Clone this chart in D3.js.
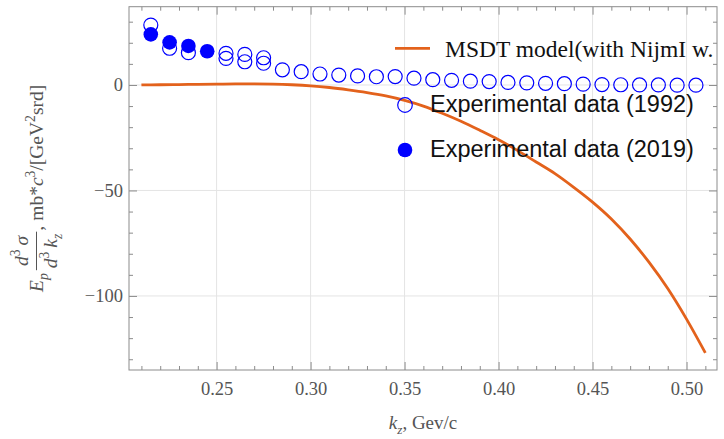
<!DOCTYPE html>
<html>
<head>
<meta charset="utf-8">
<script src="https://cdn.jsdelivr.net/npm/d3@7"></script>
<style>
body { margin: 0; background: #fff; }
svg { display: block; }
</style>
</head>
<body>
<svg id="chart" width="724" height="439"></svg>
<script>
// model curve (MSDT, NijmI)
var curveKz = [0.21, 0.22, 0.23, 0.24, 0.25, 0.26, 0.27, 0.28, 0.29, 0.30, 0.31, 0.32, 0.33, 0.34, 0.35, 0.36,
	0.37, 0.38, 0.39, 0.40, 0.41, 0.42, 0.43, 0.44, 0.45, 0.46, 0.47, 0.48, 0.49, 0.50, 0.51];
var curveVal = [0, 0.1, 0.2, 0.3, 0.4, 0.5, 0.5, 0.4, 0.1, -0.4, -1.2, -2.3, -3.6, -5.2, -7.3, -10,
	-13.4, -17.2, -21.5, -26, -31, -36.5, -42, -48.5, -55.5, -63.5, -73, -84, -96.5, -111, -127];

// experimental data 1992 (open circles)
var kz1992 = [0.215, 0.225, 0.235, 0.255, 0.255, 0.265, 0.265, 0.275, 0.275, 0.285, 0.295, 0.305, 0.315, 0.325,
	0.335, 0.345, 0.355, 0.365, 0.375, 0.385, 0.395, 0.405, 0.415, 0.425, 0.435, 0.445, 0.455, 0.465, 0.475, 0.485, 0.495, 0.505];
var val1992 = [28.4, 17.4, 15.3, 15.0, 12.6, 14.5, 11.0, 12.9, 10.3, 7.2, 6.3, 5.2, 4.7, 4.3,
	3.9, 4.0, 3.2, 2.5, 2.2, 1.8, 1.6, 1.2, 1.0, 0.8, 0.6, 0.4, 0.2, 0.1, 0.0, 0.0, -0.1, -0.1];

// experimental data 2019 (filled circles)
var kz2019 = [0.215, 0.225, 0.235, 0.245];
var val2019 = [24.0, 20.2, 18.5, 16.0];

var xMajor = [0.25, 0.30, 0.35, 0.40, 0.45, 0.50];
var yMajor = [-100, -50, 0];

var legendLabels = ["MSDT model(with NijmI w.", "Experimental data (1992)", "Experimental data (2019)"];

var orange = "#e3621c";
var blue = "#0000ff";
var frameColor = "#8c8c8c";
var tickText = "#555";

var svg = d3.select("#chart");
var pLeft = 129, pRight = 717, pTop = 6.7, pBottom = 370;

var x = d3.scaleLinear().domain([0.2034, 0.5162]).range([pLeft, pRight]);
var y = d3.scaleLinear().domain([-135.1, 37.1]).range([pBottom, pTop]);

var xMinor = d3.range(21, 52).map(d => d / 100).filter(d => xMajor.every(m => Math.abs(m - d) > 1e-6));
var yMinor = d3.range(-130, 40, 10).filter(d => yMajor.indexOf(d) < 0);

svg.append("clipPath").attr("id", "plot")
	.append("rect").attr("x", pLeft).attr("y", pTop).attr("width", pRight - pLeft).attr("height", pBottom - pTop);

// grid
var grid = svg.append("g");
grid.selectAll(".gx").data(xMajor).enter().append("line")
	.attr("x1", d => x(d)).attr("x2", d => x(d)).attr("y1", pTop).attr("y2", pBottom)
	.attr("stroke", "#e4e4e4").attr("stroke-width", 1);
grid.selectAll(".gy").data(yMajor).enter().append("line")
	.attr("y1", d => y(d)).attr("y2", d => y(d)).attr("x1", pLeft).attr("x2", pRight)
	.attr("stroke", "#e4e4e4").attr("stroke-width", 1);

// axes (ticks inward, on all four sides)
function styleAxis(g) {
	g.select(".domain").remove();
	g.selectAll(".tick line").attr("stroke", frameColor);
	g.selectAll(".tick text").attr("fill", tickText)
		.style("font-family", "'Liberation Serif', 'DejaVu Serif', serif").style("font-size", "18.5px");
}
svg.append("g").attr("transform", `translate(0,${pBottom})`)
	.call(d3.axisBottom(x).tickValues(xMajor).tickSize(-8).tickPadding(12).tickFormat(d3.format(".2f"))).call(styleAxis);
svg.append("g").attr("transform", `translate(0,${pBottom})`)
	.call(d3.axisBottom(x).tickValues(xMinor).tickSize(-4).tickFormat("")).call(styleAxis);
svg.append("g").attr("transform", `translate(0,${pTop})`)
	.call(d3.axisTop(x).tickValues(xMajor).tickSize(-8).tickFormat("")).call(styleAxis);
svg.append("g").attr("transform", `translate(0,${pTop})`)
	.call(d3.axisTop(x).tickValues(xMinor).tickSize(-4).tickFormat("")).call(styleAxis);
svg.append("g").attr("transform", `translate(${pLeft},0)`)
	.call(d3.axisLeft(y).tickValues(yMajor).tickSize(-8).tickPadding(6).tickFormat(d3.format("d"))).call(styleAxis);
svg.append("g").attr("transform", `translate(${pLeft},0)`)
	.call(d3.axisLeft(y).tickValues(yMinor).tickSize(-4).tickFormat("")).call(styleAxis);
svg.append("g").attr("transform", `translate(${pRight},0)`)
	.call(d3.axisRight(y).tickValues(yMajor).tickSize(-8).tickFormat("")).call(styleAxis);
svg.append("g").attr("transform", `translate(${pRight},0)`)
	.call(d3.axisRight(y).tickValues(yMinor).tickSize(-4).tickFormat("")).call(styleAxis);

// frame
svg.append("rect").attr("x", pLeft).attr("y", pTop).attr("width", pRight - pLeft).attr("height", pBottom - pTop)
	.attr("fill", "none").attr("stroke", frameColor).attr("stroke-width", 1);

var plot = svg.append("g").attr("clip-path", "url(#plot)");

// model curve
var curvePts = curveKz.map((k, i) => [k, curveVal[i]]);
plot.append("path").datum(curvePts)
	.attr("d", d3.line().x(d => x(d[0])).y(d => y(d[1])).curve(d3.curveMonotoneX))
	.attr("fill", "none").attr("stroke", orange).attr("stroke-width", 2.8);

// points
plot.selectAll(".p92").data(kz1992.map((k, i) => [k, val1992[i]])).enter().append("circle")
	.attr("cx", d => x(d[0])).attr("cy", d => y(d[1])).attr("r", 7)
	.attr("fill", "none").attr("stroke", blue).attr("stroke-width", 1.2);
plot.selectAll(".p19").data(kz2019.map((k, i) => [k, val2019[i]])).enter().append("circle")
	.attr("cx", d => x(d[0])).attr("cy", d => y(d[1])).attr("r", 7.3)
	.attr("fill", blue);

// legend
var leg = plot.append("g");
leg.append("line").attr("x1", 395).attr("x2", 430).attr("y1", 48.3).attr("y2", 48.3)
	.attr("stroke", orange).attr("stroke-width", 2.8);
leg.append("text").attr("x", 445).attr("y", 56.5).text(legendLabels[0])
	.style("font-family", "'Liberation Serif', serif").style("font-size", "23.5px").attr("fill", "#111");
leg.append("circle").attr("cx", 405).attr("cy", 105).attr("r", 7.3)
	.attr("fill", "none").attr("stroke", blue).attr("stroke-width", 1.2);
leg.append("text").attr("x", 430).attr("y", 112).text(legendLabels[1])
	.style("font-family", "'Liberation Sans', Arial, sans-serif").style("font-size", "23.5px").attr("fill", "#111");
leg.append("circle").attr("cx", 405).attr("cy", 150).attr("r", 7.3).attr("fill", blue);
leg.append("text").attr("x", 430).attr("y", 157).text(legendLabels[2])
	.style("font-family", "'Liberation Sans', Arial, sans-serif").style("font-size", "23.5px").attr("fill", "#111");

// text runs with sub/superscripts
function runs(g, parts, x0, y0, size) {
	var cx = x0;
	parts.forEach(function(p) {
		var fs = (p.sub || p.sup) ? size * 0.7 : size;
		var t = g.append("text").attr("x", cx).attr("y", y0 + (p.sub ? size * 0.27 : p.sup ? -size * 0.42 : 0))
			.style("font-size", fs + "px").style("font-style", p.it ? "italic" : "normal").text(p.t);
		cx += t.node().getComputedTextLength() + (p.gap || 0);
	});
	return cx - x0;
}

// x label
var xl = svg.append("g").attr("fill", tickText).style("font-family", "'Liberation Serif', serif");
var xw = runs(xl, [{t: "k", it: 1}, {t: "z", it: 1, sub: 1}, {t: ", Gev/c"}], 0, 0, 19);
xl.attr("transform", `translate(${(pLeft + pRight) / 2 - xw / 2},429)`);

// y label (rotated)
var yl = svg.append("g").attr("transform", `translate(43,${(pTop + pBottom) / 2}) rotate(-90)`)
	.attr("fill", tickText).style("font-family", "'Liberation Serif', serif");
var inner = yl.append("g");
var fs = 19.5;
var cx = 0;
cx += runs(inner, [{t: "E", it: 1}, {t: "p", it: 1, sub: 1}], cx, 0, fs) + 3;
var numG = inner.append("g"), denG = inner.append("g");
var wn = runs(numG, [{t: "d", it: 1}, {t: "3", sup: 1, gap: 4}, {t: "σ", it: 1}], 0, -15, fs);
var wd = runs(denG, [{t: "d", it: 1}, {t: "3", sup: 1, gap: 4}, {t: "k", it: 1}, {t: "z", it: 1, sub: 1}], 0, 14, fs);
var fw = Math.max(wn, wd) + 4;
numG.attr("transform", `translate(${cx + (fw - wn) / 2},0)`);
denG.attr("transform", `translate(${cx + (fw - wd) / 2},0)`);
inner.append("line").attr("x1", cx).attr("x2", cx + fw).attr("y1", -6.5).attr("y2", -6.5)
	.attr("stroke", tickText).attr("stroke-width", 1);
cx += fw + 1;
cx += runs(inner, [{t: ",", gap: 5}, {t: "mb*"}, {t: "c", it: 1}, {t: "3", sup: 1}, {t: "/[GeV"}, {t: "2", sup: 1}, {t: "srd]"}], cx, 0, fs);
inner.attr("transform", `translate(${-cx / 2},0)`);
</script>
</body>
</html>
